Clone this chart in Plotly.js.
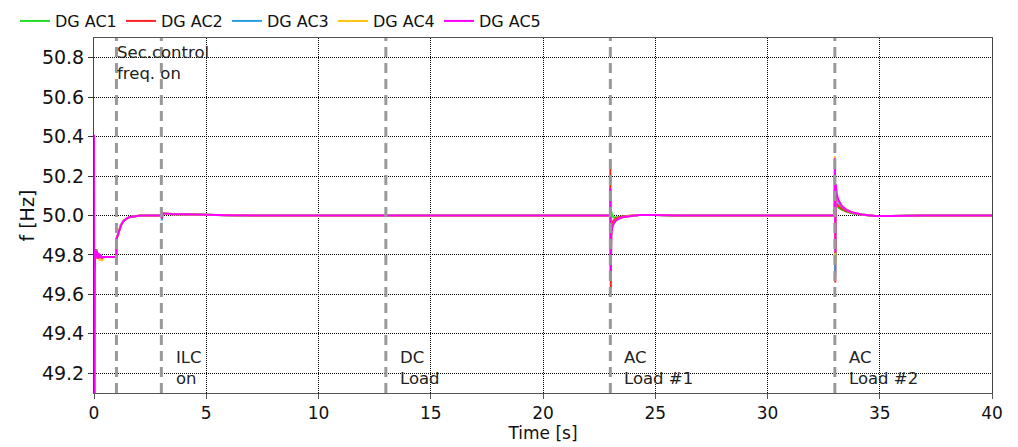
<!DOCTYPE html>
<html>
<head>
<meta charset="utf-8">
<script src="https://cdn.plot.ly/plotly-3.0.1.min.js"></script>
<style>html,body{margin:0;padding:0;background:#fff}#chart{width:1018px;height:447px}</style>
</head>
<body>
<div id="chart"></div>
<script>
// Time axis [s]
const time = [
  0, 0.01, 0.03, 0.06, 0.09, 0.12, 0.16, 0.2, 0.25, 0.3, 0.36, 0.42, 0.5, 0.6, 0.8, 0.995,
  1.0, 1.1, 1.2, 1.3, 1.45, 1.6, 1.8, 2.0, 2.3, 2.7, 2.995,
  3.0, 3.02, 3.06, 3.15, 3.5, 4.2, 5.0, 6.0, 8.0, 13.0, 13.05, 20.0, 22.995,
  23.0, 23.02, 23.04, 23.08, 23.15, 23.25, 23.4, 23.6, 23.9, 24.3, 25.0, 26.0, 30.0, 32.995,
  33.0, 33.02, 33.04, 33.08, 33.15, 33.3, 33.5, 33.8, 34.2, 34.8, 35.5, 37.0, 40.0
];
// Frequencies [Hz]
const dgAC1 = [
  50.30, 48.8, 49.75, 49.82, 49.80, 49.83, 49.79, 49.81, 49.79, 49.80, 49.785, 49.79, 49.79, 49.79, 49.79, 49.79,
  49.88, 49.92, 49.95, 49.97, 49.985, 49.993, 49.997, 49.999, 50.0, 50.0, 50.0,
  50.02, 49.99, 50.01, 50.01, 50.008, 50.006, 50.003, 50.001, 50.0, 50.0, 50.0, 50.0, 50.0,
  50.08, 49.75, 50.02, 50.0, 49.99, 49.99, 49.993, 49.996, 49.999, 50.002, 50.002, 50.0, 50.0, 50.0,
  50.18, 49.78, 50.06, 50.05, 50.04, 50.03, 50.02, 50.01, 50.004, 49.998, 49.998, 50.0, 50.0
];
const dgAC2 = [
  50.24, 48.9, 49.78, 49.81, 49.80, 49.82, 49.79, 49.80, 49.79, 49.795, 49.785, 49.79, 49.79, 49.79, 49.79, 49.79,
  49.88, 49.92, 49.95, 49.97, 49.985, 49.993, 49.997, 49.999, 50.0, 50.0, 50.0,
  50.02, 49.99, 50.01, 50.009, 50.007, 50.005, 50.003, 50.001, 50.0, 50.0, 50.0, 50.0, 50.0,
  50.25, 49.63, 49.93, 49.96, 49.975, 49.985, 49.992, 49.996, 49.999, 50.002, 50.002, 50.0, 50.0, 50.0,
  50.22, 49.66, 50.04, 50.06, 50.05, 50.035, 50.022, 50.012, 50.004, 49.998, 49.998, 50.0, 50.0
];
const dgAC3 = [
  50.20, 49.0, 49.80, 49.82, 49.79, 49.81, 49.79, 49.80, 49.79, 49.79, 49.785, 49.79, 49.79, 49.79, 49.79, 49.79,
  49.88, 49.92, 49.95, 49.97, 49.985, 49.993, 49.997, 49.999, 50.0, 50.0, 50.0,
  50.02, 49.975, 50.01, 50.009, 50.007, 50.005, 50.003, 50.001, 50.0, 50.0, 50.0, 50.0, 50.0,
  50.10, 49.70, 49.90, 49.94, 49.96, 49.975, 49.985, 49.993, 49.998, 50.002, 50.002, 50.0, 50.0, 50.0,
  50.20, 49.70, 50.12, 50.09, 50.07, 50.045, 50.028, 50.014, 50.005, 49.998, 49.998, 50.0, 50.0
];
const dgAC4 = [
  50.20, 49.0, 49.80, 49.80, 49.78, 49.80, 49.78, 49.79, 49.775, 49.78, 49.77, 49.785, 49.79, 49.79, 49.79, 49.79,
  49.88, 49.92, 49.95, 49.97, 49.985, 49.993, 49.997, 49.999, 50.0, 50.0, 50.0,
  50.02, 49.985, 50.01, 50.009, 50.007, 50.005, 50.003, 50.001, 50.0, 50.0, 50.0, 50.0, 50.0,
  50.12, 49.70, 49.90, 49.94, 49.96, 49.975, 49.985, 49.993, 49.998, 50.002, 50.002, 50.0, 50.0, 50.0,
  50.30, 49.75, 50.15, 50.10, 50.08, 50.05, 50.03, 50.015, 50.005, 49.998, 49.998, 50.0, 50.0
];
const dgAC5 = [
  50.41, 48.6, 49.70, 49.83, 49.79, 49.82, 49.78, 49.81, 49.785, 49.80, 49.785, 49.79, 49.79, 49.79, 49.79, 49.79,
  49.88, 49.92, 49.95, 49.97, 49.985, 49.993, 49.997, 49.999, 50.0, 50.0, 50.0,
  50.025, 49.985, 50.012, 50.01, 50.008, 50.006, 50.003, 50.001, 50.0, 50.0, 50.0, 50.0, 50.0,
  50.14, 49.68, 49.90, 49.94, 49.96, 49.975, 49.985, 49.993, 49.998, 50.002, 50.002, 50.0, 50.0, 50.0,
  50.29, 49.81, 50.16, 50.11, 50.08, 50.05, 50.03, 50.015, 50.005, 49.998, 49.998, 50.0, 50.0
];
const seriesNames = ["DG AC1", "DG AC2", "DG AC3", "DG AC4", "DG AC5"];
const seriesColors = ["#22dd22", "#ff2222", "#2a9ee0", "#ffc20e", "#ff00ff"];
const eventTimes = [1, 3, 13, 23, 33];
const eventLabels = ["Sec.control<br>freq. on", "ILC<br>on", "DC<br>Load", "AC<br>Load #1", "AC<br>Load #2"];
const eventLabelX = [0.95, 3.55, 13.55, 23.52, 33.55];
const eventLabelY = [50.885, 49.34, 49.34, 49.34, 49.34];
const yTicks = [49.2, 49.4, 49.6, 49.8, 50.0, 50.2, 50.4, 50.6, 50.8];
const xTicks = [0, 5, 10, 15, 20, 25, 30, 35, 40];

const allY = [dgAC1, dgAC2, dgAC3, dgAC4, dgAC5];
const traces = allY.map((y, i) => ({
  x: time, y: y, type: "scatter", mode: "lines", name: seriesNames[i],
  line: {color: seriesColors[i], width: 2}
}));

const FONT = "DejaVu Sans, Verdana, sans-serif";
const shapes = eventTimes.map(t => ({
  type: "line", xref: "x", yref: "paper", x0: t, x1: t, y0: 0, y1: 1,
  line: {color: "#999999", width: 3, dash: "10px,6px"}, layer: "above"
}));
const annotations = eventLabels.map((txt, i) => ({
  text: txt, xref: "x", yref: "y", x: eventLabelX[i], y: eventLabelY[i],
  xanchor: "left", yanchor: "top", align: "left", showarrow: false,
  font: {family: FONT, size: 16.5, color: "#222222"}
}));
annotations.push({
  text: "f [Hz]", xref: "paper", yref: "paper", x: -0.0746, y: 0.5,
  xanchor: "center", yanchor: "middle", textangle: -90, showarrow: false,
  font: {family: FONT, size: 19, color: "#111"}
});

const layout = {
  width: 1018, height: 447,
  margin: {l: 94, r: 26, t: 38, b: 54},
  paper_bgcolor: "#ffffff", plot_bgcolor: "#ffffff",
  font: {family: FONT, size: 16, color: "#111111"},
  showlegend: true,
  legend: {orientation: "h", xref: "container", yref: "container", x: 0.0147, y: 0.991,
    xanchor: "left", yanchor: "top", font: {family: FONT, size: 16, color: "#111"},
    entrywidth: 61, entrywidthmode: "pixels",
    bgcolor: "rgba(0,0,0,0)"},
  xaxis: {range: [0, 40], tickvals: xTicks, ticktext: xTicks.map(String),
    showgrid: true, gridcolor: "#000000", griddash: "1px,1px", gridwidth: 1,
    zeroline: false, showline: true, linecolor: "#555555", linewidth: 1, mirror: true,
    ticks: "outside", ticklen: 5, tickcolor: "#555555",
    tickfont: {family: FONT, size: 17, color: "#111"},
    title: {text: "Time [s]", font: {family: FONT, size: 17, color: "#111"}, standoff: 2}},
  yaxis: {range: [49.1, 50.9], tickvals: yTicks, ticktext: yTicks.map(v => v.toFixed(1)),
    showgrid: true, gridcolor: "#000000", griddash: "1px,1px", gridwidth: 1,
    zeroline: false, showline: true, linecolor: "#444444", linewidth: 1, mirror: true,
    ticks: "outside", ticklen: 5, tickcolor: "#333333",
    tickfont: {family: FONT, size: 19, color: "#111"}},
  shapes: shapes,
  annotations: annotations
};

Plotly.newPlot("chart", traces, layout, {displayModeBar: false, staticPlot: true});
</script>
</body>
</html>
